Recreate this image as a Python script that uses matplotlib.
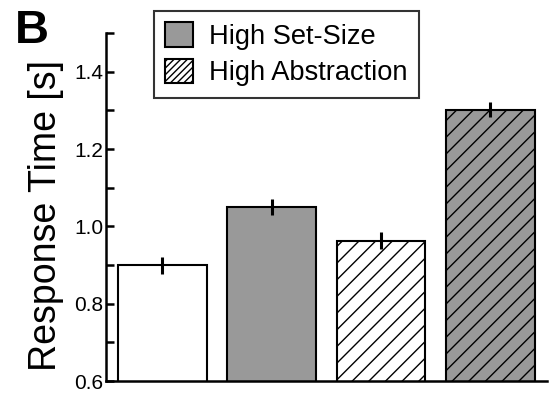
import numpy as np
import matplotlib.pyplot as plt
from matplotlib.patches import Patch
from matplotlib.ticker import MultipleLocator

plt.rcParams['font.family'] = ['Liberation Sans', 'DejaVu Sans']
plt.rcParams['hatch.linewidth'] = 1.0

# Data
conditions = ['Low/Low', 'High Set-Size', 'High Abstraction', 'Both']
rt = [0.90, 1.05, 0.963, 1.302]
err = [0.022, 0.020, 0.022, 0.020]
colors = ['white', '#999999', 'white', '#999999']
hatches = ['', '', '//', '//']

fig = plt.figure(figsize=(5.55, 3.93), dpi=100)
ax = fig.add_axes([0.191, 0.0305, 0.795, 0.8855])

x = np.arange(len(rt))
ax.bar(x, rt, width=0.81, color=colors, hatch=hatches, edgecolor='black',
       linewidth=1.5, zorder=2)
ax.errorbar(x, rt, yerr=err, fmt='none', ecolor='black', elinewidth=2.2,
            capsize=0, zorder=3)

ax.set_ylim(0.6, 1.5)
ax.set_xlim(-0.515, 3.52)
ax.yaxis.set_major_locator(MultipleLocator(0.2))
ax.yaxis.set_minor_locator(MultipleLocator(0.1))
ax.set_yticks([0.6, 0.8, 1.0, 1.2, 1.4])
ax.set_xticks([])
ax.tick_params(axis='y', which='both', direction='in', length=6, width=1.8,
               labelsize=15, pad=2)
for s in ['top', 'right']:
    ax.spines[s].set_visible(False)
ax.spines['left'].set_linewidth(1.8)
ax.spines['bottom'].set_linewidth(1.8)

ax.set_ylabel('Response Time [s]', fontsize=27)
ax.yaxis.set_label_coords(-0.095, 0.477)

handles = [Patch(facecolor='#999999', edgecolor='black', linewidth=1.5),
           Patch(facecolor='white', edgecolor='black', linewidth=1.5, hatch='/////')]
leg = fig.legend(handles, ['High Set-Size', 'High Abstraction'],
                 loc='upper left', bbox_to_anchor=(154 / 555, 1 - 11 / 393),
                 fontsize=19.6, frameon=True, fancybox=False, edgecolor='black',
                 handlelength=1.0, handleheight=1.0, handletextpad=0.6,
                 borderpad=0.42, labelspacing=0.32, borderaxespad=0)
leg.get_frame().set_linewidth(1.5)

fig.text(15 / 555, 1 - 43 / 393, 'B', fontsize=34, fontweight='bold')

fig.savefig('out.png', dpi=100)
